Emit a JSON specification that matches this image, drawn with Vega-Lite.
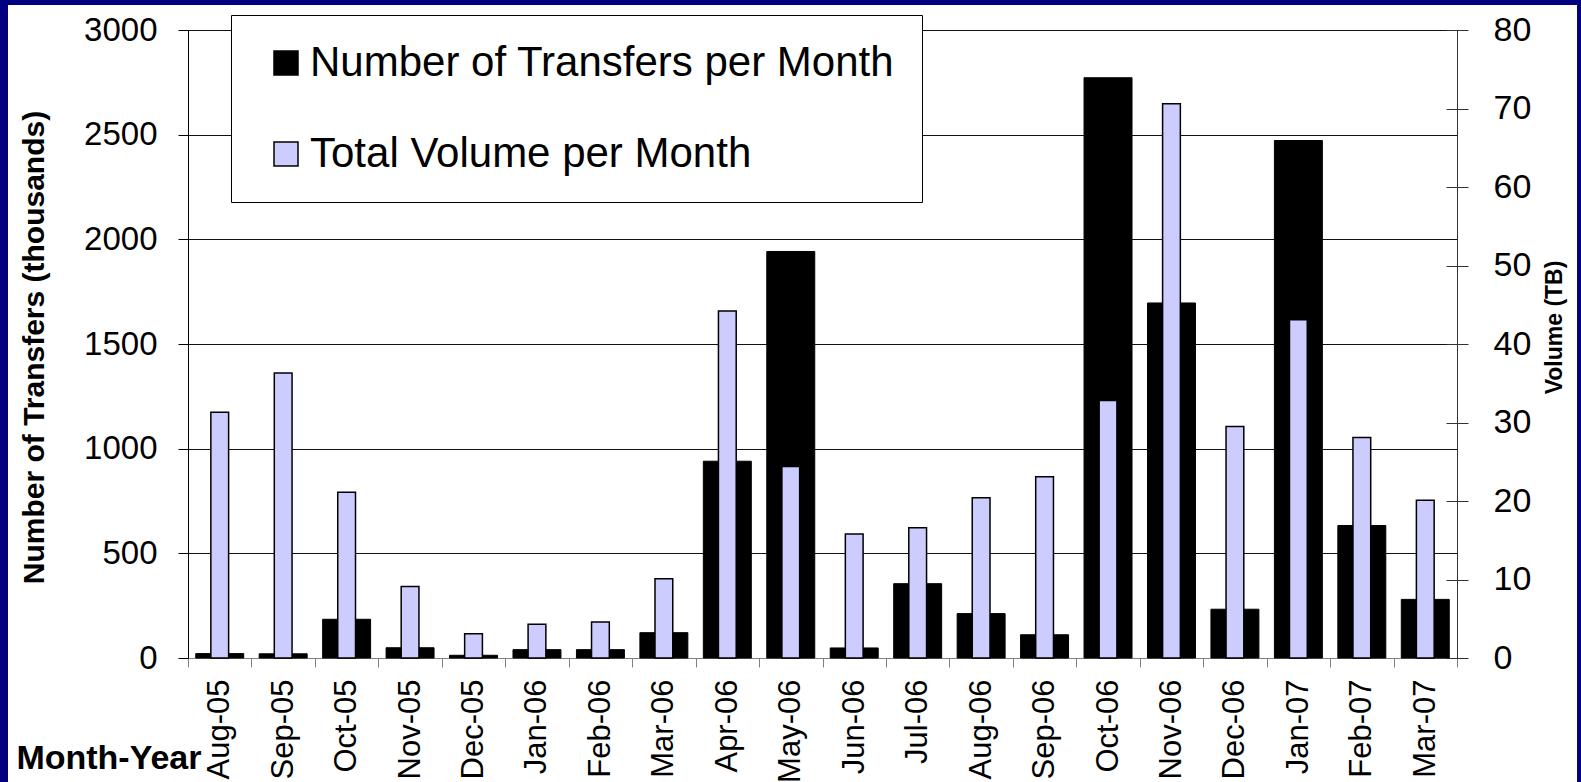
{
  "$schema": "https://vega.github.io/schema/vega-lite/v6.json",
  "autosize": {"type": "none"},
  "width": 1569,
  "height": 777,
  "padding": {"left": 8, "top": 5, "right": 4, "bottom": 0},
  "background": "#000080",
  "config": {
    "view": {"fill": "white", "stroke": null},
    "font": "Liberation Sans",
    "axis": {"labelFont": "Liberation Sans", "titleFont": "Liberation Sans", "labelColor": "black", "titleColor": "black"},
    "legend": {"labelFont": "Liberation Sans"}
  },
  "data": {
    "values": [
      {"month": "Aug-05", "transfers": 21, "volume": 31.3},
      {"month": "Sep-05", "transfers": 20, "volume": 36.3},
      {"month": "Oct-05", "transfers": 185, "volume": 21.1},
      {"month": "Nov-05", "transfers": 49, "volume": 9.1},
      {"month": "Dec-05", "transfers": 13, "volume": 3.1},
      {"month": "Jan-06", "transfers": 40, "volume": 4.3},
      {"month": "Feb-06", "transfers": 40, "volume": 4.6},
      {"month": "Mar-06", "transfers": 121, "volume": 10.1},
      {"month": "Apr-06", "transfers": 940, "volume": 44.2},
      {"month": "May-06", "transfers": 1942, "volume": 24.4},
      {"month": "Jun-06", "transfers": 48, "volume": 15.8},
      {"month": "Jul-06", "transfers": 355, "volume": 16.6},
      {"month": "Aug-06", "transfers": 212, "volume": 20.4},
      {"month": "Sep-06", "transfers": 111, "volume": 23.1},
      {"month": "Oct-06", "transfers": 2772, "volume": 32.8},
      {"month": "Nov-06", "transfers": 1696, "volume": 70.6},
      {"month": "Dec-06", "transfers": 233, "volume": 29.5},
      {"month": "Jan-07", "transfers": 2472, "volume": 43.1},
      {"month": "Feb-07", "transfers": 633, "volume": 28.1},
      {"month": "Mar-07", "transfers": 280, "volume": 20.1}
    ]
  },
  "encoding": {
    "x": {
      "field": "month",
      "type": "nominal",
      "sort": null,
      "scale": {"range": [180, 1449], "paddingInner": 0, "paddingOuter": 0},
      "axis": {
        "orient": "bottom",
        "offset": -124,
        "domainColor": "#808080",
        "tickColor": "#808080",
        "tickSize": 9,
        "tickBand": "extent",
        "labelAngle": -90,
        "labelFontSize": 31,
        "labelPadding": 12,
        "grid": false,
        "title": "Month-Year",
        "titleFontSize": 34,
        "titleFontWeight": "bold",
        "titleX": 193,
        "titleY": 110,
        "titleAlign": "right",
        "titleBaseline": "alphabetic"
      }
    }
  },
  "layer": [
    {
      "mark": {"type": "bar", "width": {"band": 0.756}, "stroke": "black", "strokeWidth": 1},
      "encoding": {
        "y": {
          "field": "transfers",
          "type": "quantitative",
          "scale": {"domain": [0, 3000], "range": [653, 25], "nice": false},
          "axis": {
            "orient": "left",
            "offset": -180,
            "values": [0, 500, 1000, 1500, 2000, 2500, 3000],
            "format": "d",
            "domainColor": "black",
            "tickColor": "black",
            "tickSize": 10,
            "labelPadding": 21,
            "labelFontSize": 33,
            "grid": true,
            "gridColor": "#111111",
            "gridOpacity": 1,
            "title": "Number of Transfers (thousands)",
            "titleFontSize": 30,
            "titleFontWeight": "bold",
            "titleAngle": -90,
            "titleX": -154,
            "titleY": 342,
            "titleAlign": "center",
            "titleBaseline": "middle"
          }
        },
        "color": {
          "datum": "Number of Transfers per Month",
          "type": "nominal",
          "scale": {"domain": ["Number of Transfers per Month", "Total Volume per Month"], "range": ["black", "#CCCCFF"]},
          "legend": {
            "orient": "none",
            "legendX": 223,
            "legendY": 10,
            "title": null,
            "symbolType": "square",
            "symbolSize": 576,
            "symbolOffset": 7,
            "symbolStrokeColor": "black",
            "symbolStrokeWidth": 1.5,
            "labelFontSize": 42,
            "labelLimit": 0,
            "labelColor": "black",
            "labelOffset": 3,
            "fillColor": "white",
            "strokeColor": "black",
            "padding": 27,
            "rowPadding": 49
          }
        }
      }
    },
    {
      "mark": {"type": "bar", "width": {"band": 0.28}, "stroke": "black", "strokeWidth": 1.5},
      "encoding": {
        "y": {
          "field": "volume",
          "type": "quantitative",
          "scale": {"domain": [0, 80], "range": [653, 25], "nice": false},
          "axis": {
            "orient": "right",
            "offset": -131,
            "values": [0, 10, 20, 30, 40, 50, 60, 70, 80],
            "domain": false,
            "tickColor": "#333333",
            "tickSize": 22,
            "labelPadding": 25,
            "labelFontSize": 34,
            "grid": false,
            "title": "Volume (TB)",
            "titleFontSize": 23,
            "titleFontWeight": "bold",
            "titleAngle": -90,
            "titleX": 108,
            "titleY": 322,
            "titleAlign": "center",
            "titleBaseline": "middle"
          }
        },
        "color": {"datum": "Total Volume per Month", "type": "nominal"}
      }
    },
    {
      "mark": {"type": "bar", "opacity": 0},
      "encoding": {
        "y": {
          "field": "volume",
          "type": "quantitative",
          "scale": {"domain": [0, 80], "range": [653, 25], "nice": false},
          "axis": {
            "orient": "right",
            "offset": -120,
            "domainColor": "#333333",
            "ticks": false,
            "labels": false,
            "grid": false,
            "title": null
          }
        }
      }
    }
  ],
  "resolve": {"scale": {"y": "independent"}, "axis": {"y": "independent"}}
}
